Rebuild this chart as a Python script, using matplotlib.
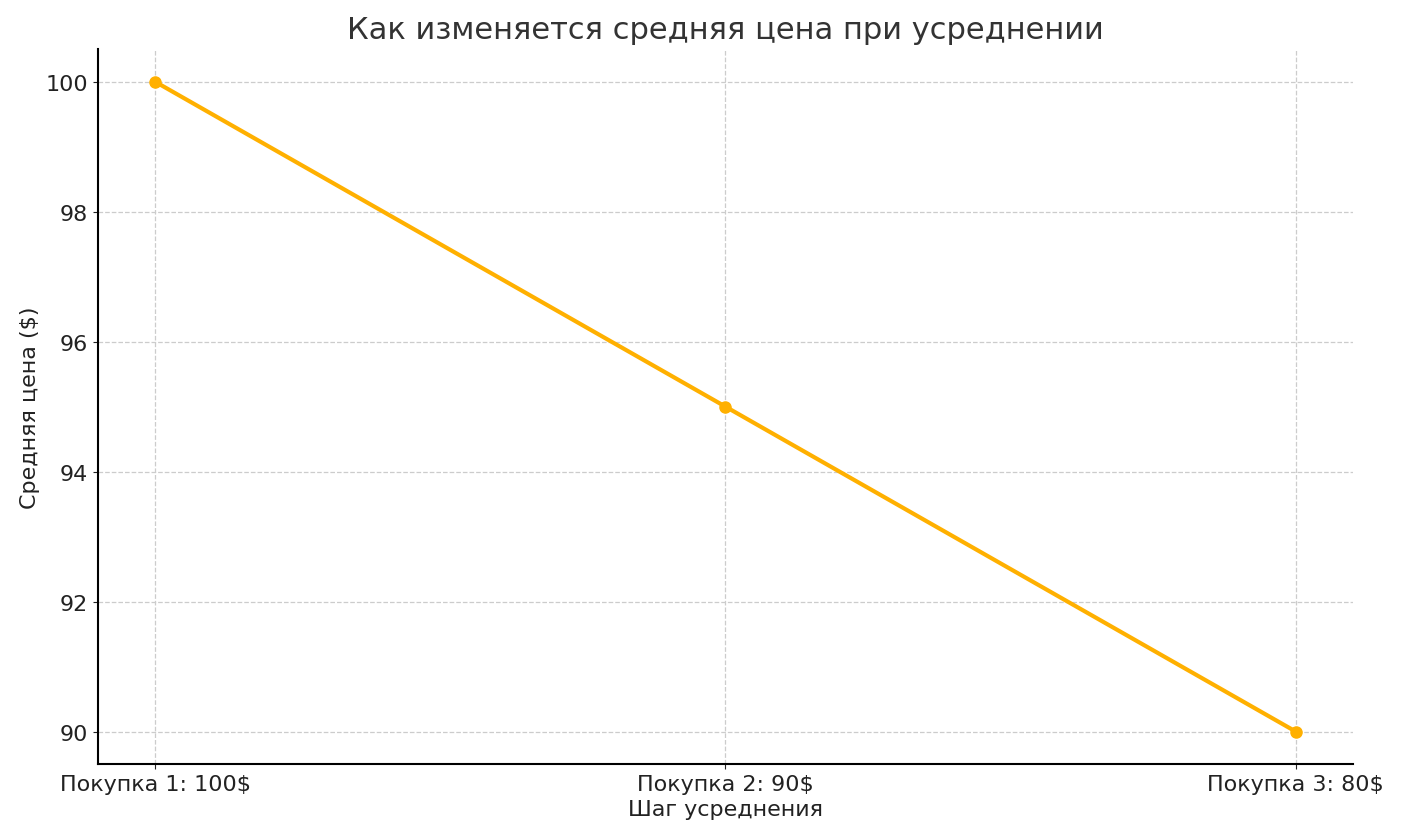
import matplotlib
matplotlib.use("Agg")
import matplotlib.pyplot as plt

steps = ["Покупка 1: 100$", "Покупка 2: 90$", "Покупка 3: 80$"]
avg_price = [100, 95, 90]

fig = plt.figure(figsize=(14.05, 8.37), dpi=100)
ax = fig.add_axes([0.0698, 0.086, 0.893, 0.854])
ax.plot(steps, avg_price, color="#FFB000", linewidth=3, marker="o", markersize=8)
ax.set_title("Как изменяется средняя цена при усреднении", fontsize=22, color="#333333", pad=8)
ax.set_xlabel("Шаг усреднения", fontsize=16, color="#222222")
ax.set_ylabel("Средняя цена ($)", fontsize=16, color="#222222")
ax.tick_params(labelsize=16, colors="#222222")
ax.grid(True, linestyle="--", color="#cccccc", linewidth=0.9)
ax.set_axisbelow(True)
for s in ["top", "right"]:
    ax.spines[s].set_visible(False)
ax.spines["left"].set_linewidth(1.5)
ax.spines["bottom"].set_linewidth(1.5)
fig.savefig("out.png", dpi=100)
